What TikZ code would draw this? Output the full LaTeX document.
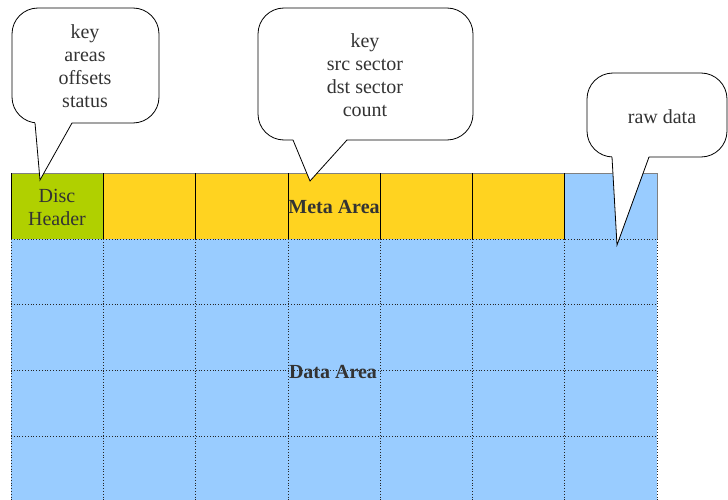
\documentclass[tikz,border=0pt]{standalone}
\usepackage{fontspec}
\setmainfont{Liberation Serif}
\definecolor{hdrgreen}{HTML}{B0D000}
\definecolor{metayellow}{HTML}{FFD320}
\definecolor{areablue}{HTML}{99CCFF}
\definecolor{inkgray}{HTML}{333333}
\begin{document}
\begin{tikzpicture}[x=1pt,y=-1pt,
  gridline/.style={black!85,line width=0.8pt,dotted},
  metaline/.style={black,line width=0.8pt},
  plaintext/.style={text=inkgray,align=center,inner sep=0pt,font=\fontsize{20}{23}\selectfont},
  boldtext/.style={plaintext,font=\fontsize{20}{23}\selectfont\bfseries},
  bubble/.style={draw=black,fill=white,line width=0.8pt,rounded corners=26pt},
  tail/.style={draw=black,line width=0.8pt,line join=miter}]
\useasboundingbox (0,0) rectangle (728,500);

% data area and meta row fills
\fill[areablue] (11,239) rectangle (657,510);
\fill[hdrgreen] (11,173) rectangle (103.3,239);
\fill[metayellow] (103.3,173) rectangle (564.7,239);
\fill[areablue] (564.7,173) rectangle (657,239);

% dotted grid of the data area
\foreach \y in {304.7,370.4,436.1}
  \draw[gridline] (11,\y) -- (657,\y);
\foreach \x in {11,103.3,195.6,287.9,380.1,472.4,564.7,657}
  \draw[gridline] (\x,239) -- (\x,510);
\draw[gridline] (11,239) -- (657,239);

% meta row borders
\draw[black!50,line width=0.8pt] (11,173) -- (657,173);
\foreach \x in {11,103.3,195.6,287.9,380.1,472.4,564.7}
  \draw[metaline] (\x,173) -- (\x,239);
\draw[black!50,line width=0.8pt] (657,173) -- (657,239);

% labels
\node[plaintext] (disc) at (57,207) {Disc\\Header};
\node[boldtext] (meta) at (334,207) {Meta Area};
\node[boldtext] (data) at (333,372) {Data Area};

% callout boxes with tails
\coordinate (tipA) at (40,180);
\coordinate (tipB) at (310,181);
\coordinate (tipC) at (617,245);

\path[bubble] (12,8) rectangle (159,123);
\fill[white] (35,122) -- (tipA) -- (72,122) -- cycle;
\draw[tail] (35,123) -- (tipA) -- (72,123);
\node[plaintext] (hdrinfo) at (85,66) {key\\areas\\offsets\\status};

\path[bubble] (258,8) rectangle (473,140);
\fill[white] (293,139) -- (tipB) -- (347,139) -- cycle;
\draw[tail] (293,140) -- (tipB) -- (347,140);
\node[plaintext] (metainfo) at (365,75) {key\\src sector\\dst sector\\count};

\path[bubble] (587,73) rectangle (727,157);
\fill[white] (612,156) -- (tipC) -- (649,156) -- cycle;
\draw[tail] (612,157) -- (tipC) -- (649,157);
\node[plaintext] (rawinfo) at (662,117) {raw data};
\end{tikzpicture}
\end{document}
